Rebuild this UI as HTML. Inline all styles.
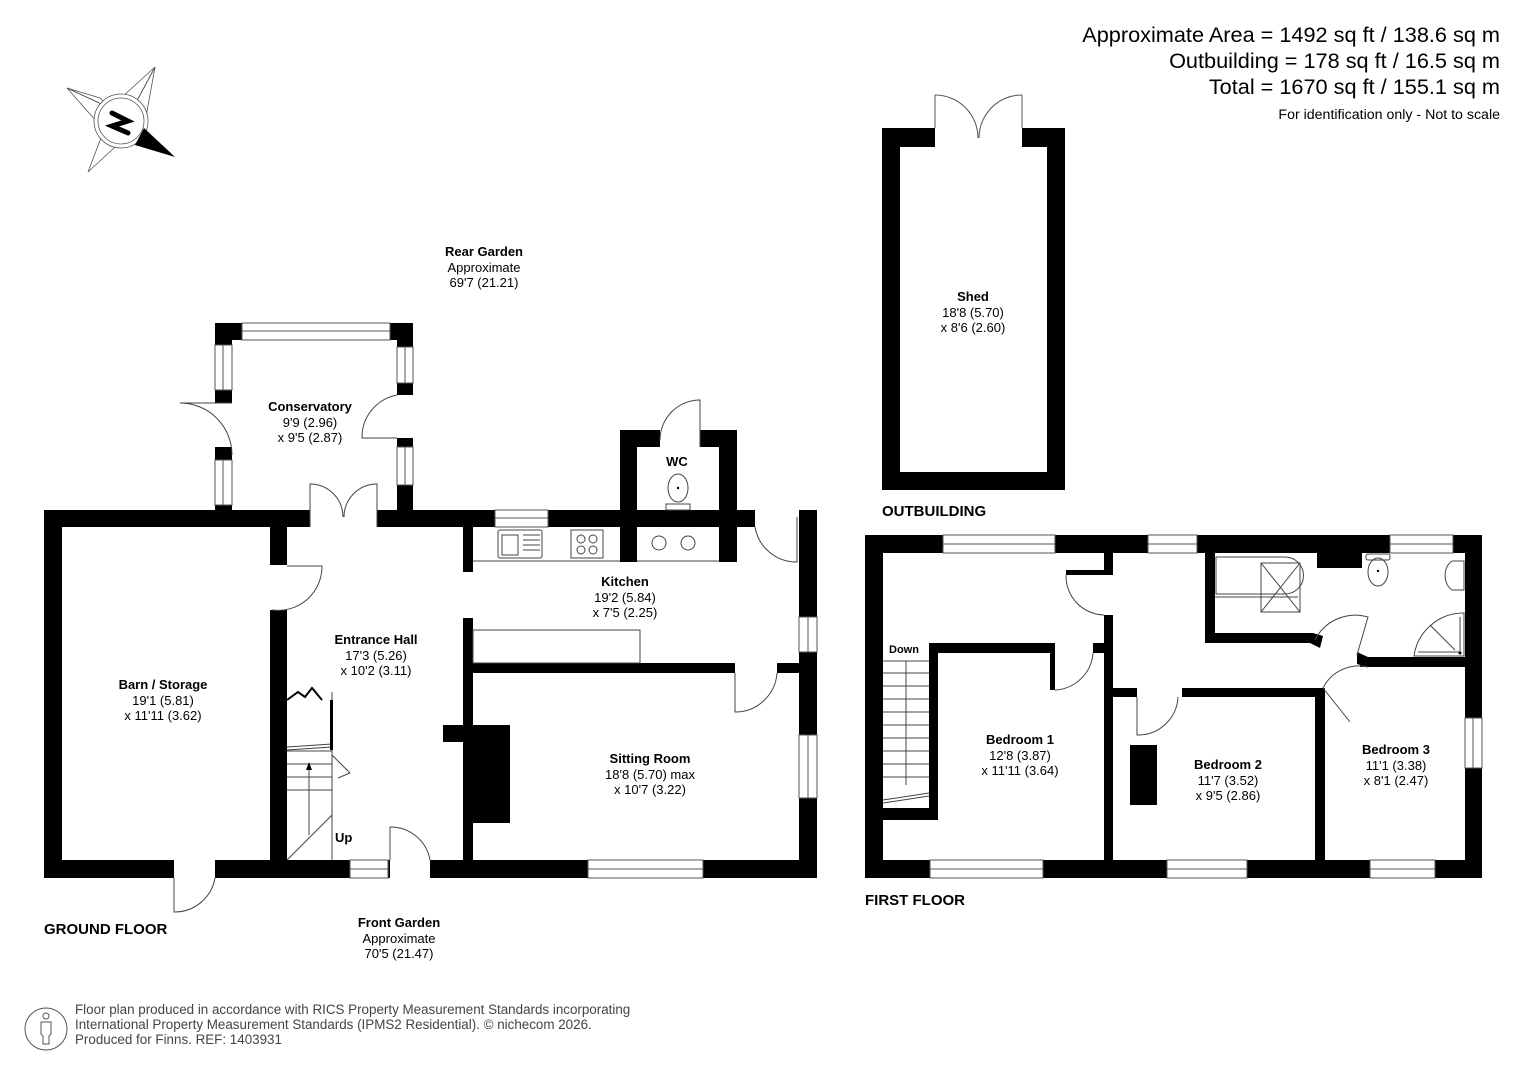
<!DOCTYPE html>
<html><head><meta charset="utf-8"><style>
html,body{margin:0;padding:0;background:#fff}
svg{display:block}
text{font-family:"Liberation Sans",Arial,sans-serif;fill:#000}
.b{font-weight:bold;font-size:13px}
.d{font-size:13px}
.h{font-weight:bold;font-size:15px}
</style></head><body>
<svg width="1527" height="1080" viewBox="0 0 1527 1080" xmlns="http://www.w3.org/2000/svg">
<rect width="1527" height="1080" fill="#fff"/>
<g text-anchor="end">
<text x="1500" y="42" font-size="21.7">Approximate Area = 1492 sq ft / 138.6 sq m</text>
<text x="1500" y="68" font-size="21.7">Outbuilding = 178 sq ft / 16.5 sq m</text>
<text x="1500" y="94" font-size="21.7">Total = 1670 sq ft / 155.1 sq m</text>
<text x="1500" y="119" font-size="14.2">For identification only - Not to scale</text>
</g>
<g stroke="#555" stroke-width="0.8" fill="none">
<polygon points="155,67 132,110 110,108" fill="#fff"/>
<polygon points="67,88 110,108 104,130" fill="#fff"/>
<polygon points="88,172 104,130 128,135" fill="#fff"/>
<polygon points="155,67 132,110 144,128"/>
<polygon points="67,88 110,108 100,98"/>
<circle cx="121" cy="121" r="27" fill="#fff"/>
<circle cx="121" cy="121" r="23"/>
</g>
<polygon points="175,157 135,145 144,128" fill="#000"/>
<path d="M112,113 L128,121 L112,126 L128,133" stroke="#000" stroke-width="5" fill="none" stroke-linecap="round"/>

<g text-anchor="middle">
<text x="484" y="256" class="b">Rear Garden</text>
<text x="484" y="272" class="d">Approximate</text>
<text x="484" y="287" class="d">69'7 (21.21)</text>
<text x="310" y="411" class="b">Conservatory</text>
<text x="310" y="427" class="d">9'9 (2.96)</text>
<text x="310" y="442" class="d">x 9'5 (2.87)</text>
<text x="677" y="466" class="b">WC</text>
<text x="625" y="586" class="b">Kitchen</text>
<text x="625" y="602" class="d">19'2 (5.84)</text>
<text x="625" y="617" class="d">x 7'5 (2.25)</text>
<text x="376" y="644" class="b">Entrance Hall</text>
<text x="376" y="660" class="d">17'3 (5.26)</text>
<text x="376" y="675" class="d">x 10'2 (3.11)</text>
<text x="163" y="689" class="b">Barn / Storage</text>
<text x="163" y="705" class="d">19'1 (5.81)</text>
<text x="163" y="720" class="d">x 11'11 (3.62)</text>
<text x="650" y="763" class="b">Sitting Room</text>
<text x="650" y="779" class="d">18'8 (5.70) max</text>
<text x="650" y="794" class="d">x 10'7 (3.22)</text>
<text x="399" y="927" class="b">Front Garden</text>
<text x="399" y="943" class="d">Approximate</text>
<text x="399" y="958" class="d">70'5 (21.47)</text>
<text x="973" y="301" class="b">Shed</text>
<text x="973" y="317" class="d">18'8 (5.70)</text>
<text x="973" y="332" class="d">x 8'6 (2.60)</text>
<text x="1020" y="744" class="b">Bedroom 1</text>
<text x="1020" y="760" class="d">12'8 (3.87)</text>
<text x="1020" y="775" class="d">x 11'11 (3.64)</text>
<text x="1228" y="769" class="b">Bedroom 2</text>
<text x="1228" y="785" class="d">11'7 (3.52)</text>
<text x="1228" y="800" class="d">x 9'5 (2.86)</text>
<text x="1396" y="754" class="b">Bedroom 3</text>
<text x="1396" y="770" class="d">11'1 (3.38)</text>
<text x="1396" y="785" class="d">x 8'1 (2.47)</text>
</g>
<text x="44" y="934" class="h">GROUND FLOOR</text>
<text x="865" y="905" class="h">FIRST FLOOR</text>
<text x="882" y="516" class="h">OUTBUILDING</text>
<text x="335" y="842" class="b">Up</text>
<text x="889" y="653" font-size="11" font-weight="bold">Down</text>

<g fill="#000">
<rect x="882" y="128" width="53" height="19"/>
<rect x="1022" y="128" width="43" height="19"/>
<rect x="882" y="128" width="18" height="362"/>
<rect x="1047" y="128" width="18" height="362"/>
<rect x="882" y="472" width="183" height="18"/>
</g>
<g stroke="#555" stroke-width="1" fill="none">
<path d="M935,95 V128 M1022,95 V128"/>
<path d="M935,95 A43,43 0 0 1 978,138"/>
<path d="M1022,95 A43,43 0 0 0 979,138"/>
</g>

<g fill="#000">
<rect x="215" y="323" width="27" height="17"/>
<rect x="390" y="323" width="23" height="17"/>
<rect x="215" y="323" width="17" height="22"/>
<rect x="215" y="390" width="17" height="13"/>
<rect x="215" y="447" width="17" height="13"/>
<rect x="215" y="505" width="17" height="6"/>
<rect x="397" y="323" width="16" height="24"/>
<rect x="397" y="383" width="16" height="12"/>
<rect x="397" y="438" width="16" height="9"/>
<rect x="397" y="485" width="16" height="26"/>
<rect x="44" y="510" width="266" height="17"/>
<rect x="377" y="510" width="378" height="17"/>
<rect x="799" y="510" width="18" height="368"/>
<rect x="44" y="510" width="18" height="368"/>
<rect x="44" y="860" width="130" height="18"/>
<rect x="215" y="860" width="175" height="18"/>
<rect x="430" y="860" width="387" height="18"/>
<rect x="270" y="527" width="17" height="38"/>
<rect x="270" y="610" width="17" height="250"/>
<rect x="463" y="527" width="10" height="45"/>
<rect x="463" y="618" width="10" height="242"/>
<rect x="443" y="725" width="20" height="17"/>
<rect x="473" y="725" width="37" height="98"/>
<rect x="473" y="663" width="262" height="10"/>
<rect x="777" y="663" width="22" height="10"/>
<rect x="620" y="430" width="17" height="132"/>
<rect x="719" y="430" width="18" height="132"/>
<rect x="620" y="430" width="40" height="17"/>
<rect x="700" y="430" width="37" height="17"/>
</g>
<g fill="#fff" stroke="#555" stroke-width="1">
<rect x="242" y="323" width="148" height="17"/><line x1="242" y1="331" x2="390" y2="331"/>
<rect x="215" y="345" width="17" height="45"/><line x1="223" y1="345" x2="223" y2="390"/>
<rect x="215" y="460" width="17" height="45"/><line x1="223" y1="460" x2="223" y2="505"/>
<rect x="397" y="347" width="16" height="36"/><line x1="405" y1="347" x2="405" y2="383"/>
<rect x="397" y="447" width="16" height="38"/><line x1="405" y1="447" x2="405" y2="485"/>
<rect x="495" y="510" width="53" height="17"/><line x1="495" y1="518" x2="548" y2="518"/>
<rect x="799" y="617" width="18" height="35"/><line x1="808" y1="617" x2="808" y2="652"/>
<rect x="799" y="735" width="18" height="63"/><line x1="808" y1="735" x2="808" y2="798"/>
<rect x="350" y="860" width="38" height="18"/><line x1="350" y1="869" x2="388" y2="869"/>
<rect x="588" y="860" width="115" height="18"/><line x1="588" y1="869" x2="703" y2="869"/>
</g>
<g stroke="#444" stroke-width="1" fill="none">
<line x1="473" y1="561" x2="620" y2="561"/>
<line x1="637" y1="561" x2="719" y2="561"/>
<rect x="473" y="630" width="167" height="33"/>
<rect x="498" y="530" width="44" height="28" rx="2"/>
<rect x="502" y="535" width="16" height="20"/>
<rect x="571" y="530" width="32" height="28"/>
<circle cx="581" cy="539" r="4"/><circle cx="593" cy="539" r="4"/><circle cx="581" cy="550" r="4"/><circle cx="593" cy="550" r="4"/>
<circle cx="659" cy="543" r="7"/><circle cx="688" cy="543" r="7"/>
<ellipse cx="678" cy="488" rx="10" ry="14"/>
<rect x="666" y="504" width="24" height="6"/>
<path d="M523,535 H540 M523,540 H540 M523,545 H540 M523,550 H540"/>
<path d="M232,403 H180 A52,52 0 0 1 232,455"/>
<path d="M397,438 H362 A43,43 0 0 1 397,395"/>
<path d="M310,527 V484 A33,33 0 0 1 343,517 M377,527 V484 A33,33 0 0 0 344,517"/>
<path d="M700,447 V400 A40,40 0 0 0 660,440"/>
<path d="M755,527 A42,42 0 0 0 797,562 V517"/>
<path d="M735,673 V712 A42,42 0 0 0 777,673"/>
<path d="M287,566 H322 A44,44 0 0 1 272,610"/>
<path d="M174,878 V912 A41,41 0 0 0 215,878"/>
<path d="M390,860 V827 A40,40 0 0 1 430,860"/>
<path d="M287,860 L332,815 M332,860 V692 M287,790 H332 M287,777 H332 M287,764 H332 M287,751 H332 M287,747 L332,744 M287,750 L332,747 M309,835 V765"/>
<path d="M287,700 L298,692 L305,697 L312,688 L322,700" stroke="#000" stroke-width="2"/>
<path d="M332,755 L350,773 L338,778"/>
</g>
<polygon points="309,762 306,770 312,770" fill="#000"/>
<rect x="330" y="700" width="3" height="50" fill="#000"/>

<g fill="#000">
<rect x="865" y="535" width="617" height="18"/>
<rect x="865" y="535" width="18" height="343"/>
<rect x="1465" y="535" width="17" height="343"/>
<rect x="865" y="860" width="617" height="18"/>
<rect x="929" y="643" width="9" height="177"/>
<rect x="883" y="808" width="55" height="12"/>
<rect x="929" y="643" width="123" height="10"/>
<rect x="1050" y="643" width="5" height="47"/>
<rect x="1093" y="643" width="20" height="10"/>
<rect x="1104" y="553" width="9" height="22"/>
<rect x="1104" y="615" width="9" height="245"/>
<rect x="1066" y="570" width="38" height="5"/>
<rect x="1113" y="688" width="24" height="9"/>
<rect x="1182" y="688" width="140" height="9"/>
<rect x="1315" y="688" width="10" height="172"/>
<rect x="1130" y="745" width="27" height="60"/>
<rect x="1205" y="553" width="10" height="90"/>
<rect x="1205" y="633" width="108" height="10"/>
<polygon points="1313,633 1323,636 1320,648 1310,643"/>
<rect x="1360" y="657" width="105" height="10"/>
<polygon points="1357,652 1368,657 1368,667 1357,664"/>
<rect x="1317" y="553" width="45" height="15"/>
</g>
<g fill="#fff" stroke="#555" stroke-width="1">
<rect x="943" y="535" width="112" height="18"/><line x1="943" y1="544" x2="1055" y2="544"/>
<rect x="1148" y="535" width="49" height="18"/><line x1="1148" y1="544" x2="1197" y2="544"/>
<rect x="1390" y="535" width="63" height="18"/><line x1="1390" y1="544" x2="1453" y2="544"/>
<rect x="1465" y="718" width="17" height="50"/><line x1="1473" y1="718" x2="1473" y2="768"/>
<rect x="930" y="860" width="113" height="18"/><line x1="930" y1="869" x2="1043" y2="869"/>
<rect x="1167" y="860" width="80" height="18"/><line x1="1167" y1="869" x2="1247" y2="869"/>
<rect x="1370" y="860" width="65" height="18"/><line x1="1370" y1="869" x2="1435" y2="869"/>
</g>
<g stroke="#444" stroke-width="1" fill="none">
<path d="M883,661 H929 M883,673 H929 M883,686 H929 M883,699 H929 M883,712 H929 M883,725 H929 M883,738 H929 M883,751 H929 M883,764 H929 M883,777 H929 M906,661 V785 M883,800 L929,793 M883,803 L929,796"/>
<path d="M1066,575 A39,39 0 0 0 1104,615"/>
<path d="M1055,690 A40,40 0 0 0 1093,653"/>
<path d="M1137,697 V735 A40,40 0 0 0 1178,697"/>
<path d="M1323,688 L1350,722 M1323,688 A40,40 0 0 1 1368,667" />
<path d="M1315,640 A45,45 0 0 1 1368,617 L1357,655"/>
<path d="M1216,557 H1285 A16,16 0 0 1 1285,594 H1216 Z"/>
<line x1="1215" y1="597" x2="1298" y2="597"/>
<rect x="1261" y="563" width="39" height="49"/>
<path d="M1261,563 L1300,612 M1300,563 L1261,612"/>
<rect x="1366" y="554" width="24" height="6" rx="2"/>
<ellipse cx="1378" cy="572" rx="10" ry="14"/>
<path d="M1464,561 H1452 A12,16 0 0 0 1452,590 H1464 Z"/>
<path d="M1464,613 A50,50 0 0 0 1414,656 H1464 Z"/>
<path d="M1418,652 H1460 V617 M1430,625 L1455,650"/>
</g>
<g fill="#000"><circle cx="678" cy="488" r="1.2"/><circle cx="1378" cy="571" r="1.2"/><circle cx="1460" cy="653" r="1.5"/></g>

<g stroke="#555" stroke-width="1" fill="none">
<circle cx="46" cy="1029" r="21"/>
<circle cx="46" cy="1016" r="3"/>
<path d="M41,1022 H51 V1034 L49,1036 V1044 H43 V1036 L41,1034 Z"/>
</g>
<g font-size="13.4">
<text x="75" y="1014" style="fill:#444">Floor plan produced in accordance with RICS Property Measurement Standards incorporating</text>
<text x="75" y="1029" style="fill:#444">International Property Measurement Standards (IPMS2 Residential).   © nichecom 2026.</text>
<text x="75" y="1044" style="fill:#444">Produced for Finns.   REF:  1403931</text>
</g>
</svg>
</body></html>
